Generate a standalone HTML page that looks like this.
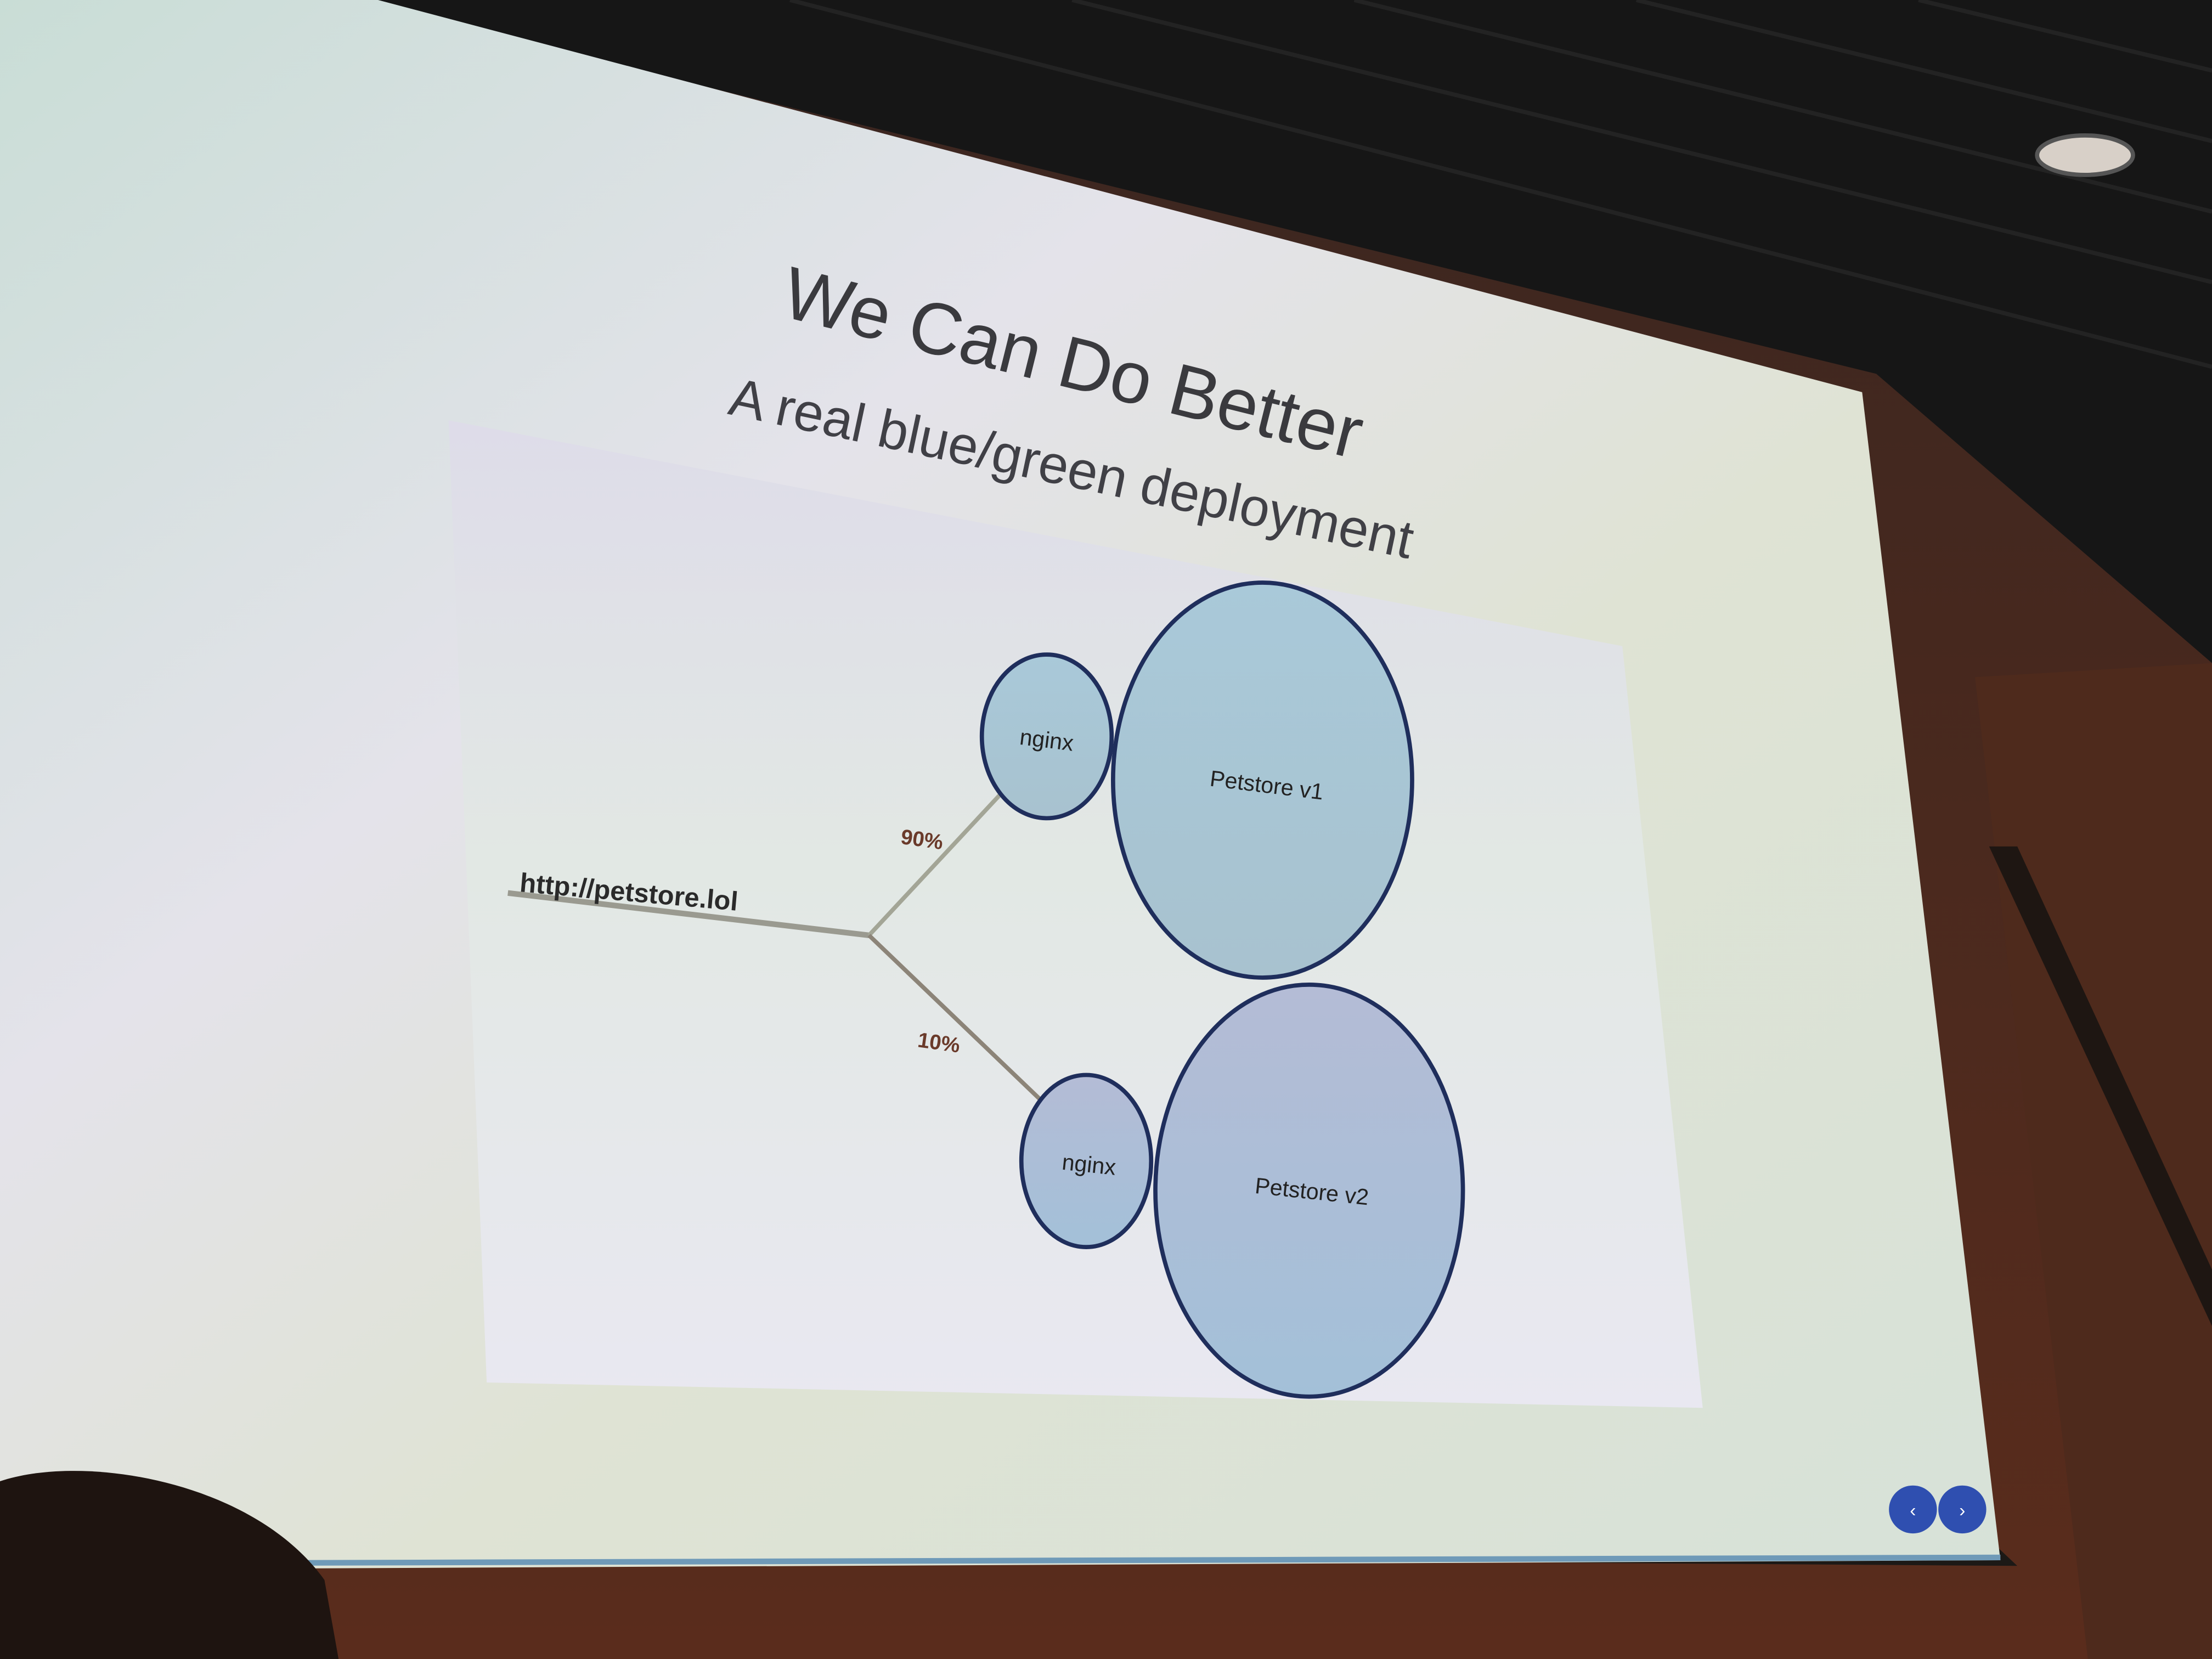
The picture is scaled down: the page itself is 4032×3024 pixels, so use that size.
<!DOCTYPE html>
<html><head><meta charset="utf-8"><style>
html,body{margin:0;padding:0;width:4032px;height:3024px;overflow:hidden;background:#1b1714;}
svg{display:block;overflow:hidden;}
text{font-family:"Liberation Sans",sans-serif;}
</style></head><body>
<svg width="4032" height="3024" viewBox="0 0 1568 1176" xmlns="http://www.w3.org/2000/svg">
<defs>
<linearGradient id="scr" x1="0" y1="0" x2="1" y2="1">
<stop offset="0" stop-color="#c9ddd6"/><stop offset="0.35" stop-color="#e4e3ea"/><stop offset="0.6" stop-color="#dfe3d4"/><stop offset="1" stop-color="#d7e2d8"/></linearGradient>
<linearGradient id="img" x1="0" y1="0" x2="0" y2="1">
<stop offset="0" stop-color="#dedce9"/><stop offset="0.45" stop-color="#e2e8e4"/><stop offset="1" stop-color="#e9e8f1"/></linearGradient>
<linearGradient id="c1" x1="0" y1="0" x2="0" y2="1"><stop offset="0" stop-color="#a9c9d9"/><stop offset="1" stop-color="#a8c2cf"/></linearGradient>
<linearGradient id="c2" x1="0" y1="0" x2="0" y2="1"><stop offset="0" stop-color="#b4bcd6"/><stop offset="1" stop-color="#a3c0d8"/></linearGradient>
<linearGradient id="frame" x1="0" y1="0" x2="0" y2="1"><stop offset="0" stop-color="#3a2620"/><stop offset="1" stop-color="#5a2c1c"/></linearGradient>
</defs>
<rect x="0" y="0" width="1568" height="1176" fill="#1c1916"/>
<polygon points="240,0 1568,0 1568,480 1400,500 1330,270" fill="#161616"/>
<g stroke="#232323" stroke-width="3">
<line x1="560" y1="0" x2="1568" y2="260"/><line x1="760" y1="0" x2="1568" y2="200"/><line x1="960" y1="0" x2="1568" y2="150"/><line x1="1160" y1="0" x2="1568" y2="100"/><line x1="1360" y1="0" x2="1568" y2="50"/>
</g>
<polygon points="250,0 1330,265 1568,470 1568,1176 0,1176 0,1100 1430,1110" fill="url(#frame)"/>
<polygon points="1400,480 1568,470 1568,1176 1480,1176" fill="#4e2a1c"/>
<polygon points="0,0 268,0 1320,278 1418,1106 170,1112 0,1108" fill="url(#scr)"/>
<polygon points="318,298 1150,458 1207,998 345,980" fill="url(#img)"/>
<text x="760" y="275" font-size="52" fill="#3a3a3e" text-anchor="middle" transform="rotate(14 760 260)">We Can Do Better</text>
<text x="760" y="345" font-size="38" fill="#404046" text-anchor="middle" transform="rotate(12 760 330)">A real blue/green deployment</text>
<line x1="360" y1="633" x2="616" y2="663" stroke="#9a9a90" stroke-width="4"/>
<line x1="616" y1="663" x2="712" y2="560" stroke="#a3a596" stroke-width="3"/>
<line x1="616" y1="663" x2="738" y2="780" stroke="#8c8478" stroke-width="3"/>
<text x="368" y="632" font-size="19" font-weight="bold" fill="#2a2a2a" transform="rotate(5 368 632)">http://petstore.lol</text>
<text x="638" y="598" font-size="15" font-weight="bold" fill="#6a3a2a" transform="rotate(8 638 598)">90%</text>
<text x="650" y="742" font-size="15" font-weight="bold" fill="#6a3a2a" transform="rotate(8 650 742)">10%</text>
<ellipse cx="895" cy="553" rx="106" ry="140" fill="url(#c1)" stroke="#1f2e5c" stroke-width="3"/>
<ellipse cx="742" cy="522" rx="46" ry="58" fill="url(#c1)" stroke="#1f2e5c" stroke-width="3"/>
<ellipse cx="928" cy="844" rx="109" ry="146" fill="url(#c2)" stroke="#1f2e5c" stroke-width="3"/>
<ellipse cx="770" cy="823" rx="46" ry="61" fill="url(#c2)" stroke="#1f2e5c" stroke-width="3"/>
<text x="742" y="530" font-size="16" fill="#222" text-anchor="middle" transform="rotate(7 742 524)">nginx</text>
<text x="898" y="562" font-size="16" fill="#222" text-anchor="middle" transform="rotate(7 898 556)">Petstore v1</text>
<text x="772" y="831" font-size="16" fill="#222" text-anchor="middle" transform="rotate(6 772 825)">nginx</text>
<text x="930" y="850" font-size="16" fill="#222" text-anchor="middle" transform="rotate(6 930 844)">Petstore v2</text>
<line x1="170" y1="1108" x2="1418" y2="1104" stroke="#6f9ab8" stroke-width="4"/>
<circle cx="1356" cy="1070" r="17" fill="#2f4fb0"/>
<text x="1356" y="1075" font-size="13" fill="#fff" text-anchor="middle">‹</text>
<circle cx="1391" cy="1070" r="17" fill="#2f4fb0"/>
<text x="1391" y="1075" font-size="13" fill="#fff" text-anchor="middle">›</text>
<ellipse cx="1478" cy="110" rx="34" ry="14" fill="#d8d0c8" stroke="#555" stroke-width="3"/>
<path d="M0,1050 C60,1030 180,1050 230,1120 L240,1176 L0,1176 Z" fill="#1e1410"/>
<polygon points="1410,600 1430,600 1568,900 1568,940" fill="#1e1612"/>
</svg>
</body></html>
